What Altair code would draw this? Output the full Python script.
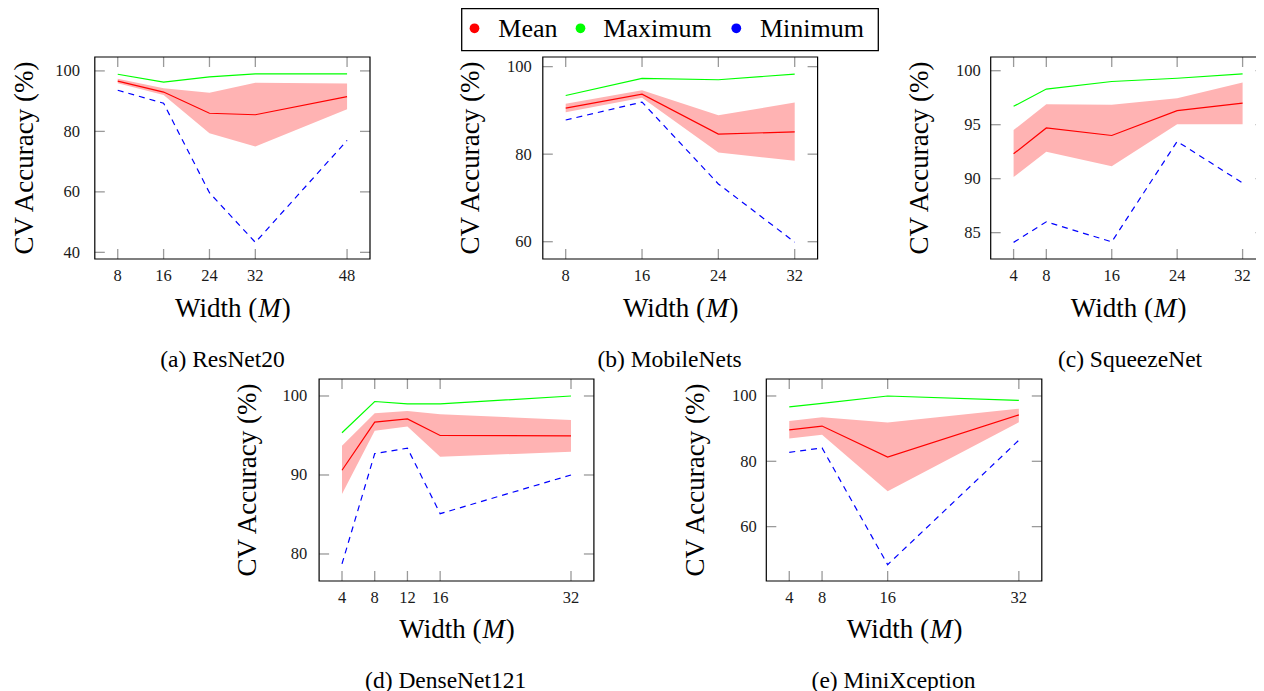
import altair as alt
import pandas as pd

# ---------------- data ----------------
resnet_x = [8, 16, 24, 32, 48]
resnet_mean = [96.6, 93.0, 86.0, 85.5, 91.5]
resnet_upper = [97.4, 94.3, 92.8, 96.1, 95.8]
resnet_lower = [95.9, 92.0, 79.4, 75.0, 87.3]
resnet_max = [98.9, 96.3, 98.0, 99.0, 99.0]
resnet_min = [93.6, 89.3, 59.7, 43.3, 77.0]

mobile_x = [8, 16, 24, 32]
mobile_mean = [90.5, 93.7, 84.6, 85.1]
mobile_upper = [91.5, 94.6, 88.9, 91.8]
mobile_lower = [89.6, 92.9, 80.4, 78.5]
mobile_max = [93.4, 97.3, 97.0, 98.3]
mobile_min = [87.8, 91.9, 73.2, 59.9]

squeeze_x = [4, 8, 16, 24, 32]
squeeze_mean = [92.3, 94.7, 94.0, 96.3, 97.0]
squeeze_upper = [94.5, 96.9, 96.85, 97.45, 98.9]
squeeze_lower = [90.15, 92.5, 91.15, 95.05, 95.05]
squeeze_max = [96.7, 98.3, 99.0, 99.3, 99.7]
squeeze_min = [84.1, 86.0, 84.15, 93.45, 89.6]

dense_x = [4, 8, 12, 16, 32]
dense_mean = [90.6, 96.7, 97.1, 95.0, 94.95]
dense_upper = [93.7, 97.8, 98.1, 97.7, 96.95]
dense_lower = [87.6, 95.6, 96.15, 92.3, 92.95]
dense_max = [95.35, 99.3, 99.0, 99.0, 100.0]
dense_min = [78.75, 92.7, 93.4, 85.1, 90.0]

xcep_x = [4, 8, 16, 32]
xcep_mean = [89.6, 90.8, 81.3, 94.2]
xcep_upper = [92.35, 93.5, 91.85, 96.1]
xcep_lower = [86.95, 88.15, 70.8, 91.95]
xcep_max = [96.65, 97.75, 100.0, 98.65]
xcep_min = [82.75, 84.1, 48.35, 86.45]

resnet_xticks = [8, 16, 24, 32, 48]
resnet_yticks = [40, 60, 80, 100]
mobile_xticks = [8, 16, 24, 32]
mobile_yticks = [60, 80, 100]
squeeze_xticks = [4, 8, 16, 24, 32]
squeeze_yticks = [85, 90, 95, 100]
dense_xticks = [4, 8, 12, 16, 32]
dense_yticks = [80, 90, 100]
xcep_xticks = [4, 8, 16, 32]
xcep_yticks = [60, 80, 100]

captions = ["(a) ResNet20", "(b) MobileNets", "(c) SqueezeNet",
            "(d) DenseNet121", "(e) MiniXception"]
series_names = ["Mean", "Maximum", "Minimum"]
series_colors = ["#ff0000", "#00ff00", "#0000ff"]

# ---------------- layout helpers ----------------
OX, OY = 8, 8


def px(v):
    return v - OX


def py(v):
    return v - OY


SERIF = "Liberation Serif"
TICK_FS = 16.5
TITLE_FS = 27
CAP_FS = 23.5
LEG_FS = 26

one = pd.DataFrame({"a": [0]})


def txt(s, x, y, size, align="center", baseline="alphabetic", angle=0,
        italic=False, color="black"):
    kw = dict(text=s, font=SERIF, fontSize=size, align=align,
              baseline=baseline, color=color)
    if angle:
        kw["angle"] = angle
    if italic:
        kw["fontStyle"] = "italic"
    return alt.Chart(one).mark_text(**kw).encode(
        x=alt.value(x), y=alt.value(y))


def panel(xs, mean, lo, hi, mx, mn, xticks, yticks, xdom, frame_x, ydom,
          frame_y, ylab_right, ytitle_x, caption, cap_x, cap_y, wtitle_y):
    l, r = px(frame_x[0]), px(frame_x[1])
    t, b = py(frame_y[0]), py(frame_y[1])
    xs_ = alt.Scale(domain=xdom, range=[l, r], nice=False, zero=False)
    ys_ = alt.Scale(domain=ydom, range=[b, t], nice=False, zero=False)
    df = pd.DataFrame({"w": xs, "mean": mean, "lo": lo, "hi": hi,
                       "mx": mx, "mn": mn})
    X = alt.X("w:Q", scale=xs_, axis=None)
    band = alt.Chart(df).mark_area(color="#ffb3b3", opacity=1).encode(
        x=X, y=alt.Y("lo:Q", scale=ys_, axis=None), y2=alt.Y2("hi:Q"))
    l_mean = alt.Chart(df).mark_line(color=series_colors[0], strokeWidth=1.2).encode(
        x=X, y=alt.Y("mean:Q", scale=ys_, axis=None))
    l_max = alt.Chart(df).mark_line(color=series_colors[1], strokeWidth=1.2).encode(
        x=X, y=alt.Y("mx:Q", scale=ys_, axis=None))
    l_min = alt.Chart(df).mark_line(color=series_colors[2], strokeWidth=1.2,
                                    strokeDash=[6, 5]).encode(
        x=X, y=alt.Y("mn:Q", scale=ys_, axis=None))

    xdf = pd.DataFrame({"t": xticks, "lab": [str(v) for v in xticks]})
    ydf = pd.DataFrame({"t": yticks, "lab": [str(v) for v in yticks]})
    XT = alt.X("t:Q", scale=xs_, axis=None)
    YT = alt.Y("t:Q", scale=ys_, axis=None)
    tick_style = dict(color="#9a9a9a", strokeWidth=1.3)
    xt_b = alt.Chart(xdf).mark_rule(**tick_style).encode(
        x=XT, y=alt.value(b), y2=alt.value(b - 10))
    xt_t = alt.Chart(xdf).mark_rule(**tick_style).encode(
        x=XT, y=alt.value(t), y2=alt.value(t + 10))
    yt_l = alt.Chart(ydf).mark_rule(**tick_style).encode(
        y=YT, x=alt.value(l), x2=alt.value(l + 10))
    yt_r = alt.Chart(ydf).mark_rule(**tick_style).encode(
        y=YT, x=alt.value(r - 10), x2=alt.value(r))
    xlab = alt.Chart(xdf).mark_text(font=SERIF, fontSize=TICK_FS, align="center",
                                    baseline="alphabetic", color="#1a1a1a").encode(
        x=XT, y=alt.value(b + 21.7), text="lab:N")
    ylab = alt.Chart(ydf).mark_text(font=SERIF, fontSize=TICK_FS, align="right",
                                    baseline="alphabetic", dy=5.5,
                                    color="#1a1a1a").encode(
        x=alt.value(px(ylab_right)), y=YT, text="lab:N")
    frame = alt.Chart(one).mark_rect(filled=False, stroke="black",
                                     strokeWidth=1.2).encode(
        x=alt.value(l), x2=alt.value(r), y=alt.value(t), y2=alt.value(b))

    # axis titles
    ytitle = txt("CV Accuracy (%)", px(ytitle_x), (t + b) / 2, TITLE_FS,
                 baseline="middle", angle=270)
    c = (l + r) / 2
    w1 = 3.083 * TITLE_FS
    wm = 0.833 * TITLE_FS
    total = w1 + wm + 0.333 * TITLE_FS + 2
    s = c - total / 2
    wy = py(wtitle_y)
    wt1 = txt("Width (", s + w1, wy, TITLE_FS, align="right")
    wt2 = txt("M", s + w1 + 1, wy, TITLE_FS, align="left", italic=True)
    wt3 = txt(")", s + w1 + 2 + wm, wy, TITLE_FS, align="left")
    cap = txt(caption, px(cap_x), py(cap_y), CAP_FS)

    return alt.layer(band, xt_b, xt_t, yt_l, yt_r, l_max, l_mean, l_min, frame,
                     xlab, ylab, ytitle, wt1, wt2, wt3, cap)


pa = panel(resnet_x, resnet_mean, resnet_lower, resnet_upper, resnet_max, resnet_min,
           resnet_xticks, resnet_yticks, [4, 52], (94.8, 370), [37.8, 104.6], (57, 259),
           80, 25, captions[0], 222.5, 366.5, 316.7)
pb = panel(mobile_x, mobile_mean, mobile_lower, mobile_upper, mobile_max, mobile_min,
           mobile_xticks, mobile_yticks, [5.6, 34.4], (542.8, 817.6), [56.05, 102.2], (57, 259),
           531.7, 470.5, captions[1], 669.5, 366.5, 316.7)
pc = panel(squeeze_x, squeeze_mean, squeeze_lower, squeeze_upper, squeeze_max, squeeze_min,
           squeeze_xticks, squeeze_yticks, [1.2, 34.8], (990.7, 1265.5), [82.56, 101.27], (57, 259),
           980.7, 919.5, captions[2], 1130, 366.5, 316.7)
pd_ = panel(dense_x, dense_mean, dense_lower, dense_upper, dense_max, dense_min,
            dense_xticks, dense_yticks, [1.2, 34.8], (319.1, 593.9), [76.58, 102.15], (379, 581),
            307.3, 247.5, captions[3], 445.7, 687.5, 638.3)
pe = panel(xcep_x, xcep_mean, xcep_lower, xcep_upper, xcep_max, xcep_min,
           xcep_xticks, xcep_yticks, [1.2, 34.8], (766.3, 1041.8), [43.35, 105.2], (379, 581),
           756.7, 695.5, captions[4], 893.5, 687.5, 638.3)

# legend
leg_box = alt.Chart(one).mark_rect(fill="white", stroke="black", strokeWidth=1.3).encode(
    x=alt.value(px(461.7)), x2=alt.value(px(878.3)),
    y=alt.value(py(8.6)), y2=alt.value(py(50.7)))
leg_parts = [leg_box]
dot_x = [474.5, 580.5, 736.3]
lab_x = [498.3, 603.3, 760.0]
for name, col, dx, lx in zip(series_names, series_colors, dot_x, lab_x):
    leg_parts.append(alt.Chart(one).mark_point(filled=True, shape="circle", size=95,
                                               color=col, opacity=1).encode(
        x=alt.value(px(dx)), y=alt.value(py(28.3))))
    leg_parts.append(txt(name, px(lx), py(36.7), LEG_FS, align="left"))
legend = alt.layer(*leg_parts)

chart = alt.layer(pa, pb, pc, pd_, pe, legend).resolve_scale(
    x="independent", y="independent"
).properties(
    width=1248, height=683,
    padding=0,
    autosize=alt.AutoSizeParams(type="none"),
).configure_view(stroke=None)

chart.save("out.html", embed_options={"renderer": "svg", "actions": False})
